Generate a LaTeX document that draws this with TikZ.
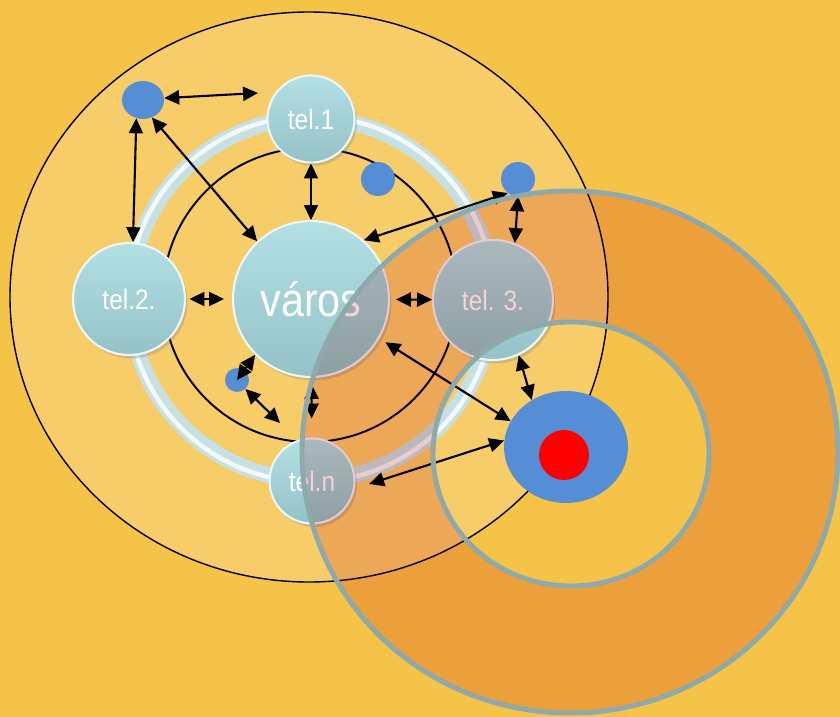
\documentclass[tikz,border=0pt]{standalone}
\usepackage{fontspec}
\setmainfont{Liberation Sans}
\newfontfamily\keskeny[FakeStretch=0.87]{Liberation Sans}
\usetikzlibrary{arrows.meta,shadows,shapes.geometric}
\definecolor{hatter}{HTML}{F5C347}
\definecolor{fedo}{HTML}{F5D2D4}
\definecolor{keret}{HTML}{8DA9AB}
\definecolor{kek}{HTML}{558ED5}
\definecolor{gombfel}{HTML}{B2E0E4}
\definecolor{gombal}{HTML}{94C2C6}
\definecolor{gyuru}{HTML}{C6E0E3}
\tikzset{
  gomb/.style={circle, inner sep=0pt, top color=gombfel, bottom color=gombal,
    draw=white!75!gombfel, line width=1.2pt, text=white,
    font=\keskeny\fontsize{16}{16}\selectfont,
    drop shadow={shadow xshift=0.05cm, shadow yshift=-0.07cm, opacity=0.3}},
  pont/.style={ellipse, inner sep=0pt, fill=kek},
  nyil/.style={<->, >={Triangle[length=8.5pt, width=8pt]}, line width=1.2pt}
}
\begin{document}
\begin{tikzpicture}[x=0.02cm, y=-0.02cm]
      \useasboundingbox (0,0) rectangle (840,717);
      \clip (0,0) rectangle (840,717);
      \fill[hatter] (0,0) rectangle (840,717);
      \draw[line width=0.8pt, fill=white, fill opacity=0.18]
        (309,297) ellipse [x radius=299, y radius=285];
      \draw[line width=1.1pt] (310,295) circle [radius=147];
      \draw[gyuru, line width=0.32cm] (311,299) circle [radius=181];
      \draw[white, opacity=0.8, line width=0.09cm] (311,299) circle [radius=183];
      \path
        (311,299) node[gomb, minimum size=3.12cm, font=\keskeny\fontsize{27}{27}\selectfont] (varos){város}
        (311,119) node[gomb, minimum size=1.74cm] (tel1){tel.1}
        (129,299) node[gomb, minimum size=2.24cm] (tel2){tel.2.}
        (493,300) node[gomb, minimum size=2.4cm] (tel3){tel. 3.}
        (312,481) node[gomb, minimum size=1.7cm] (teln){tel.n};
      \path
        (143,100) node[pont, minimum width=0.84cm, minimum height=0.76cm] (d1){}
        (378,179) node[pont, minimum size=0.68cm] (d2){}
        (518,179) node[pont, minimum size=0.68cm] (d3){}
        (237,380) node[pont, minimum size=0.48cm] (d4){}
        (566,447) node[pont, minimum width=2.48cm, minimum height=2.24cm] (cel){}
        (564,455) node[circle, inner sep=0pt, minimum size=1cm, fill=red] (piros){};
      \coordinate (veg1) at (258,93);
      \coordinate (veg2) at (280,423);
      \begin{scope}[nyil]
        \draw (d1.5) to (veg1);
        \draw (d1.250) to (tel2.86);
        \draw (d1.297) to (varos.133);
        \draw (tel1) to (varos);
        \draw (d3.234) to (varos.48);
        \draw (d3.south) to (tel3.69);
        \draw[shorten <=0.07cm, shorten >=0.16cm] (tel2) to (varos);
        \draw[shorten <=0.12cm] (varos) to (tel3);
        \draw (d4.center) to (varos.225);
        \draw (d4.313) to (veg2);
        \draw[shorten <=0.12cm, shorten >=0.38cm] (varos) to (teln);
        \draw[shorten <=0.14cm] (varos.330) to (cel.155);
        \draw (tel3.295) to (cel.126);
        \draw[shorten <=0.3cm] (teln.350) to (cel.174);
      \end{scope}
      \begin{scope}[blend mode=multiply]
        \path[fill=fedo, even odd rule]
          (570,452) ellipse [x radius=268, y radius=261]
          (571,454) ellipse [x radius=138, y radius=132];
      \end{scope}
      \draw[keret, line width=2.8pt] (570,452) ellipse [x radius=268, y radius=261];
      \draw[keret, line width=2.8pt] (571,454) ellipse [x radius=138, y radius=132];
    \end{tikzpicture}
\end{document}
